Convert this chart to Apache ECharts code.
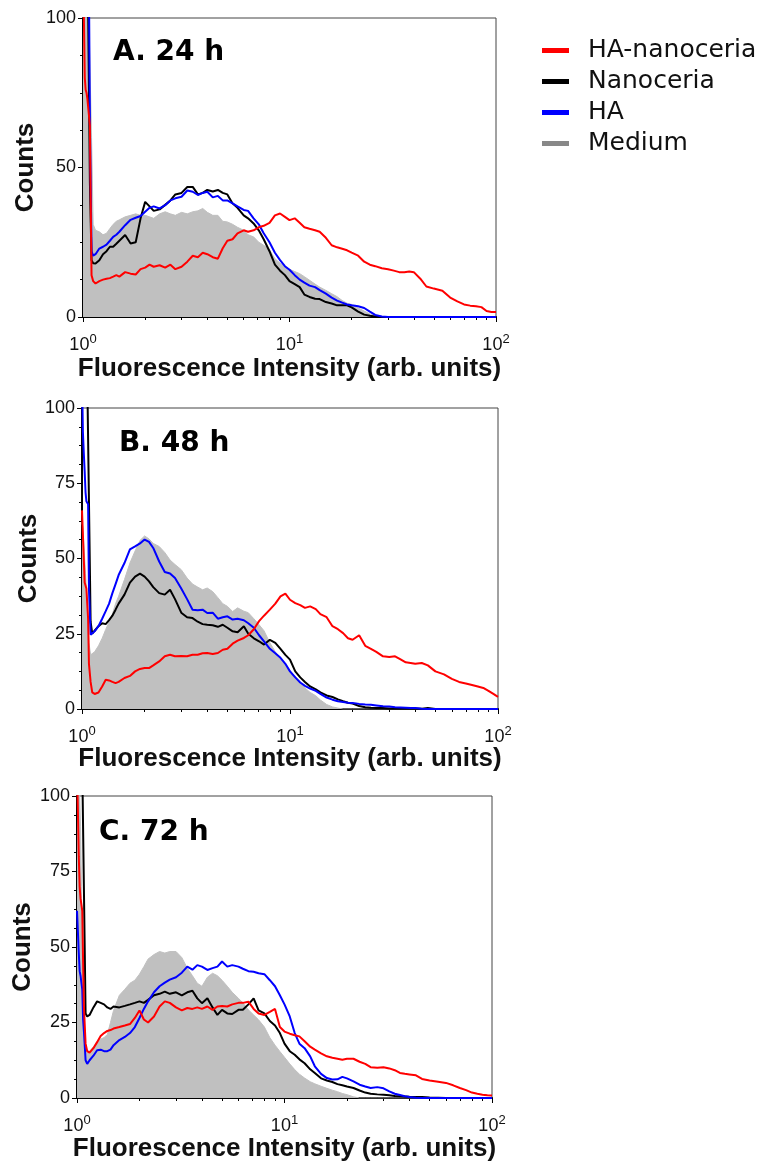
<!DOCTYPE html>
<html>
<head>
<meta charset="utf-8">
<title>Fluorescence intensity histograms</title>
<script src="https://cdn.jsdelivr.net/npm/echarts@6.0.0/dist/echarts.min.js"></script>
<style>
  html, body { margin: 0; padding: 0; background: #fff; }
  #main { width: 769px; height: 1167px; }
</style>
</head>
<body>
<div id="main"></div>
<script>
// shared intensity bins (arb. units)
const intensity = [
  1.00, 1.01, 1.02, 1.03, 1.04, 1.05, 1.06, 1.07, 1.08,
  1.10, 1.12, 1.15,
  1.2, 1.25, 1.3, 1.35, 1.4, 1.45, 1.5,
  1.6, 1.7, 1.8, 1.9, 2.0, 2.1, 2.2,
  2.35, 2.5, 2.65, 2.8,
  3.0, 3.2, 3.4, 3.6, 3.8, 4.0,
  4.25, 4.5, 4.75, 5.0,
  5.3, 5.6, 6.0, 6.3, 6.7, 7.1, 7.5,
  8.0, 8.5, 9.0, 9.5, 10,
  10.6, 11.2, 11.8, 12.5, 13.3, 14,
  15, 16, 17, 18, 19, 20,
  21.5, 23, 24.5, 26,
  28, 30, 32, 34, 36, 38, 40,
  43, 46, 50,
  55, 60, 65, 70, 75, 80, 85, 90, 95, 100
];

const seriesNames = ['HA-nanoceria', 'Nanoceria', 'HA', 'Medium'];
const panelTitles = ['A. 24 h', 'B. 48 h', 'C. 72 h'];
const yTicks = [[0, 50, 100], [0, 25, 50, 75, 100], [0, 25, 50, 75, 100]];
const xMinorTicks = [2, 3, 4, 5, 6, 7, 8, 9, 20, 30, 40, 50, 60, 70, 80, 90];

// A. 24 h
const redA = [
  110, 100, 80, 76, 75, 73, 70, 67, 64,
  14, 12, 11.2,
  12, 12.5, 12.8, 13, 13.5, 14, 13.5,
  15, 14.5, 14.2, 16, 16.5, 17.5, 16.8,
  17.3, 16.5, 17.5, 16,
  16.8, 18.5, 20.5, 20, 21.5, 21,
  20, 19.5, 23, 25.5,
  26, 28, 29, 28.5, 29, 30, 30.5,
  31.5, 34, 34.6, 33.5, 32.4,
  33, 31.5, 30, 29.5, 29, 28.5,
  26.5, 24, 23.3, 22.8, 22.3, 21.5,
  20.5, 18.5, 17.5, 17,
  16.3, 16, 15.5, 15, 15, 15.2, 15,
  12.8, 10.2, 9.5,
  8.8, 6.5, 5.2, 4.2, 3.8, 3.6, 3.3, 2, 1.7, 1.7
];
const blackA = [
  110, 110, 108, 105, 103, 102, 100, 100, 45,
  19, 18, 17.9,
  19, 21, 22, 23.5, 23.5, 24.5, 25.5,
  27.4, 24.6, 25, 33, 38.5, 37, 35.5,
  36, 37.5, 39, 41,
  41.5, 43.5, 43.5, 41, 41.5, 42.5,
  42, 42.5, 41.5, 41,
  38, 36.5, 34, 33, 31.3, 29, 26,
  22, 17.5, 15.5, 14, 12,
  11, 10, 7.5, 6.7, 6.1, 6,
  5, 4.5, 3.9, 3.9, 3.9, 3.2,
  1.8, 0.8, 0.4, 0.2,
  0, 0, 0, 0, 0, 0, 0,
  0, 0, 0,
  0, 0, 0, 0, 0, 0, 0, 0, 0, 0
];
const blueA = [
  120, 120, 120, 120, 120, 120, 120, 105, 65,
  22, 20.5, 21,
  22.9, 23.5, 24.2, 25.5, 26.8, 27.5, 28.5,
  30.7, 32.5, 33.2, 33.8, 35.2, 36.5, 37,
  36.3, 37.4, 39, 39.7,
  40.2, 42.3, 41.9, 40.8, 41.5, 41.9,
  40, 40.5, 39, 39,
  38, 37, 35.8, 35.5, 33, 31, 28,
  25, 21.5, 19, 17, 15.8,
  14, 12.5, 11.5, 10.5, 10, 9,
  7.8, 6.5, 5.5, 4.8, 4.2, 3.9,
  3.6, 3, 1.8, 0.7,
  0.2, 0, 0, 0, 0, 0, 0,
  0, 0, 0,
  0, 0, 0, 0, 0, 0, 0, 0, 0, 0
];
const grayA = [
  110, 110, 110, 110, 110, 110, 110, 110, 110,
  60, 31, 29,
  28.5, 27.5, 28, 29.6, 31, 32, 32.5,
  33.5, 34, 34.5, 34, 34, 33.5, 33,
  34.5, 35.2, 34.5, 34,
  35, 34.5, 35.2, 35.5, 36.3, 35,
  34, 34, 32, 31.8,
  31, 30, 29, 27.5, 26.8, 25, 24,
  22.5, 19.5, 18, 16.8, 16,
  15.2, 14.5, 13.5, 12.3, 11, 10,
  8.9, 7.8, 6.8, 5.5, 4.6, 4.2,
  3, 2, 1, 0.5,
  0, 0, 0, 0, 0, 0, 0,
  0, 0, 0,
  0, 0, 0, 0, 0, 0, 0, 0, 0, 0
];

// B. 48 h
const redB = [
  66, 58, 50, 42, 41, 40, 39.5, 30, 15,
  9, 5.5, 5,
  5.5, 7.5, 9.7, 9.5, 9, 8.6, 9,
  10.3, 11, 12.5, 13.3, 13.6, 13.6, 14.5,
  15.8, 17.5, 18, 17.5,
  17.6, 17.5, 18, 18, 18.5, 18.6,
  18.3, 18.6, 19.7, 20,
  21.7, 22.7, 23.6, 24.5, 26.5, 29.2, 31,
  33, 35, 37.4, 38.3, 36.3,
  35.2, 34.5, 33.6, 34.1, 33.2, 31.5,
  30.5, 27.5, 26.5, 25.2, 23.5, 23,
  24.5, 21, 20, 19,
  17.5, 17.3, 17.5, 16.5, 15.5, 15.3, 15,
  15.3, 14.5, 12.5,
  11.5, 10, 9, 8.5, 8, 7.5, 7, 6, 5, 4
];
const blackB = [
  110, 110, 110, 110, 110, 110, 110, 110, 110,
  29, 25, 26,
  27.5, 28.5, 28.2, 29.5, 31, 33, 35,
  38, 42, 44, 45, 44, 42.4, 40.5,
  38.5, 38, 39.6, 36.5,
  32, 30.5, 30.2, 29, 28.2, 28,
  27.8, 27.3, 28, 27,
  25.8, 25.5, 27.5, 25, 23.5, 22.5, 21.4,
  23, 22, 20, 18, 16.4,
  12.5, 10.5, 9, 7.5, 6.5, 5.5,
  4.5, 4, 3.2, 2.6, 2.1, 1.8,
  1, 0.6, 0.4, 0.3,
  0.3, 0.2, 0.2, 0.2, 0.2, 0.2, 0.2,
  0.1, 0.3, 0,
  0, 0, 0, 0, 0, 0, 0, 0, 0, 0
];
const blueB = [
  110, 92, 85, 79, 72, 69, 69, 68, 40,
  24.7, 24.5, 25.8,
  27.5, 30, 32.5, 35, 38.5, 41.5, 44.5,
  48.5, 53, 54, 55, 56.3, 55.5, 53.5,
  49, 45.5, 45, 43.5,
  40, 36.5, 33, 32.8, 33, 31.9,
  32, 30, 30.5, 30.8,
  29.7, 30, 29.5, 28.5, 27, 24.5, 22.5,
  20, 18.5, 17, 15, 12.5,
  10.5, 8.8, 7.7, 6.8, 6, 5,
  3.8, 3.1, 2.6, 2.3, 2.1, 2,
  1.7, 1.5, 1.4, 1.2,
  0.9, 0.8, 0.6, 0.5, 0.4, 0.3, 0.3,
  0.1, 0, 0,
  0, 0, 0, 0, 0, 0, 0, 0, 0, 0
];
const grayB = [
  62, 60, 55, 50, 45, 40, 36, 30, 22,
  18, 18.3, 19,
  21, 23.5, 26.4, 29, 31.5, 35, 37.5,
  43, 48.5, 52.5, 56, 57.5, 56.5, 55,
  54, 52, 49.5, 48,
  46.3, 43.5, 41.5, 40.5, 39.6, 40.2,
  39, 37, 35, 34.1,
  32.4, 33.6, 32.5, 32, 30, 28, 26,
  22, 19, 16.4, 14.5, 12.8,
  10.8, 8.6, 7, 5.5, 4.4, 3,
  1.5, 0.7, 0.3, 0, 0, 0,
  0, 0, 0, 0,
  0, 0, 0, 0, 0, 0, 0,
  0, 0, 0,
  0, 0, 0, 0, 0, 0, 0, 0, 0, 0
];

// C. 72 h
const redC = [
  110, 95, 80, 70, 66, 64, 62, 45, 30,
  18, 15.5, 15,
  16.5, 18.5, 20.5, 21.5, 22.2, 22.5, 23,
  23.5, 24, 24.5, 26.5, 29, 26, 25,
  27, 30.3, 32, 31.5,
  30, 29, 29.8, 29.5, 30, 29.5,
  30.3, 29.2, 30.3, 30.5,
  30.3, 31, 31.5, 31.5, 31.9, 29.5, 28,
  27.5, 28.5, 29.5, 23.5, 22,
  21.3, 20.8, 20.4, 18.8, 17, 16,
  14.8, 13.8, 13.3, 13, 12.7, 13,
  13, 12, 11.3, 10.2,
  10, 10.2, 9.8, 9.2, 8.3, 8, 7.8,
  7.5, 6.3, 5.8,
  5.4, 5, 4.2, 3.3, 2.6, 1.8, 1.4, 1.1, 0.9, 0.8
];
const blackC = [
  110, 110, 110, 110, 110, 110, 110, 110, 110,
  28, 27, 27.5,
  30, 32, 31.5, 31, 30, 29.5, 30.3,
  30, 30.5, 31, 31.5, 32, 31.5, 32.5,
  34, 34.5, 35.2, 34.5,
  35, 34, 35, 35.5, 33, 31.4,
  33, 30, 27.5, 29.2,
  28, 27.8, 29.2, 29.2, 31, 33, 29,
  28, 25.5, 24, 21.5, 18,
  15.5, 14.3, 12.8, 11.5, 9.5, 8.3,
  6.5, 5.8, 5.3, 4.6, 4.2, 3.8,
  3.3, 2.5, 1.8, 1.4,
  1.2, 1.1, 0.9, 0.7, 0.6, 0.5, 0.4,
  0.3, 0.3, 0.2,
  0.1, 0, 0, 0, 0, 0, 0, 0, 0, 0
];
const blueC = [
  62, 55, 48, 42, 40.5, 41, 36, 26, 22,
  12.5, 11.3, 12.5,
  14, 15.8, 16, 15.5, 15.5, 16, 17.5,
  19.2, 20.2, 21.5, 23.5, 26.5, 29.5, 32,
  35, 37, 38.2, 39.2,
  40, 41.5, 43.5, 42.5, 44, 43.5,
  42.4, 43, 43.5, 45.2,
  43.5, 44, 43.5, 42.8, 42, 41.8, 41.3,
  41, 39, 37, 34, 31,
  27, 21.5, 18, 16.5, 13.8, 10.5,
  8, 6.6, 6.1, 6.2, 7, 6.5,
  5.5, 4.4, 3.8, 3.3,
  3.6, 3.2, 2.2, 1.4, 1, 0.6, 0.3,
  0.1, 0, 0,
  0, 0, 0, 0, 0, 0, 0, 0, 0, 0
];
const grayC = [
  110, 110, 110, 100, 90, 70, 50, 35, 25,
  17, 15.5, 15.5,
  17, 18.5, 19.5, 20, 21, 25, 29,
  34, 36, 38, 39, 41, 43.5, 46,
  47.5, 48.5, 48, 48.5,
  48.5, 46.5, 43, 40.5, 38, 37,
  40, 41.3, 40.5, 39,
  37, 35, 33, 31.5, 29.2, 27.5, 25.9,
  23.5, 20, 17.5, 15.4, 13.5,
  11.3, 9.4, 7.9, 6.6, 5.4, 4.7,
  3.9, 3.2, 2.6, 2.1, 1.5, 1.1,
  0.4, 0, 0, 0,
  0, 0, 0, 0, 0, 0, 0,
  0, 0, 0,
  0, 0, 0, 0, 0, 0, 0, 0, 0, 0
];

const panelData = [
  [redA, blackA, blueA, grayA],
  [redB, blackB, blueB, grayB],
  [redC, blackC, blueC, grayC]
];

const colors = ['#ff0000', '#000000', '#0000ff', '#c0c0c0'];
const legendColors = ['#ff0000', '#000000', '#0000ff', '#888888'];

// layout of the three panels (pixels)
const layout = [
  { left: 83, top: 18, width: 413, height: 299, yGap: 44, xGap: 39, titleX: 113, titleY: 53 },
  { left: 82, top: 408, width: 416, height: 301, yGap: 40, xGap: 37, titleX: 119, titleY: 444 },
  { left: 77, top: 796, width: 415, height: 302, yGap: 41, xGap: 38, titleX: 99, titleY: 833 }
];

const labelFont = 'Liberation Sans';
const grids = [], xAxes = [], yAxes = [], series = [], graphics = [];

layout.forEach((p, i) => {
  grids.push({
    left: p.left, top: p.top, width: p.width, height: p.height,
    show: true, borderColor: '#444', borderWidth: 1
  });

  // major ticks + labels
  xAxes.push({
    type: 'log', logBase: 10, min: 1, max: 100, gridIndex: i, position: 'bottom',
    name: 'Fluorescence Intensity (arb. units)', nameLocation: 'middle', nameGap: p.xGap,
    nameMoveOverlap: false,
    nameTextStyle: { fontFamily: labelFont, fontWeight: 'bold', fontSize: 26, color: '#111' },
    axisLine: { show: true, onZero: false, lineStyle: { color: '#000', width: 2 } },
    axisTick: { show: true, length: 5, lineStyle: { color: '#000', width: 1 } },
    splitLine: { show: false },
    axisLabel: {
      margin: 16,
      formatter: v => '{b|10}{s|' + Math.round(Math.log10(v)) + '}',
      rich: {
        b: { fontFamily: labelFont, fontSize: 18, color: '#111', lineHeight: 21, verticalAlign: 'bottom', padding: [9, 0, 0, 0] },
        s: { fontFamily: labelFont, fontSize: 13, color: '#111', lineHeight: 14, verticalAlign: 'top' }
      }
    }
  });
  // minor ticks at 2..9 of each decade, on a decade-exponent axis
  xAxes.push({
    type: 'value', min: 0, max: 2, gridIndex: i, position: 'bottom',
    axisLine: { show: false },
    axisTick: { show: true, length: 3, customValues: xMinorTicks.map(v => Math.log10(v)), lineStyle: { color: '#000', width: 1 } },
    axisLabel: { show: false },
    splitLine: { show: false }
  });

  yAxes.push({
    type: 'value', min: 0, max: 100, interval: yTicks[i][1], gridIndex: i,
    name: 'Counts', nameLocation: 'middle', nameGap: p.yGap,
    nameMoveOverlap: false,
    nameTextStyle: { fontFamily: labelFont, fontWeight: 'bold', fontSize: 26, color: '#111' },
    axisLine: { show: true, onZero: false, lineStyle: { color: '#000', width: 2 } },
    axisTick: { show: true, length: 5, lineStyle: { color: '#000', width: 1 } },
    minorTick: { show: true, splitNumber: 4, length: 3, lineStyle: { color: '#000', width: 1 } },
    splitLine: { show: false },
    axisLabel: { fontFamily: labelFont, fontSize: 18, color: '#111', margin: 7 }
  });

  // medium first (filled), then nanoceria, HA, HA-nanoceria on top
  [3, 1, 2, 0].forEach((s, order) => {
    const vals = panelData[i][s];
    const item = {
      name: seriesNames[s], type: 'line',
      xAxisIndex: i * 2, yAxisIndex: i,
      data: intensity.map((x, k) => [x, vals[k]]),
      symbol: 'none', showSymbol: false, clip: true,
      z: 2 + order,
      itemStyle: { color: legendColors[s] },
      lineStyle: { color: colors[s], width: 2 }
    };
    if (s === 3) {
      item.areaStyle = { color: colors[s], opacity: 1 };
      item.lineStyle = { color: colors[s], width: 1 };
    }
    series.push(item);
  });

  graphics.push({
    type: 'text', x: p.titleX, y: p.titleY, z: 100,
    style: { text: panelTitles[i], font: 'bold 28px "DejaVu Sans"', fill: '#000', align: 'left', verticalAlign: 'middle' }
  });
});

const chart = echarts.init(document.getElementById('main'));
chart.setOption({
  animation: false,
  backgroundColor: '#fff',
  grid: grids,
  xAxis: xAxes,
  yAxis: yAxes,
  legend: {
    orient: 'vertical', left: 542, top: 38, padding: 0,
    icon: 'rect', itemWidth: 27, itemHeight: 5, itemGap: 6,
    textStyle: { fontFamily: 'DejaVu Sans', fontSize: 25, color: '#111', lineHeight: 24, padding: [0, 0, 0, 14] },
    data: seriesNames.map((n, k) => ({ name: n, itemStyle: { color: legendColors[k] } }))
  },
  graphic: graphics,
  series: series
});
</script>
</body>
</html>
